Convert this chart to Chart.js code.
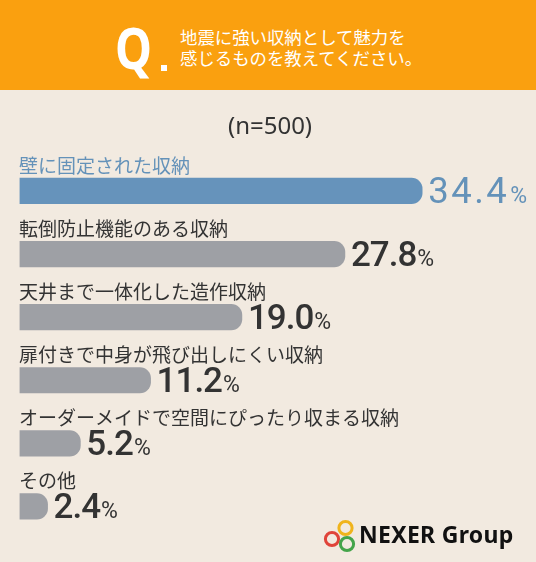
<!DOCTYPE html>
<html lang="ja">
<head>
<meta charset="utf-8">
<script src="https://cdn.jsdelivr.net/npm/chart.js@4.4.1/dist/chart.umd.min.js"></script>
<style>
  html, body { margin: 0; padding: 0; }
  body { width: 536px; height: 562px; background: #f2eae0; position: relative; overflow: hidden; }
  .header { position: absolute; left: 0; top: 0; width: 536px; height: 90px; background: #faa00f; }
  .q { position: absolute; left: 115px; top: 9px; font-family: "Noto Sans", sans-serif; font-weight: 700;
       font-size: 57px; color: #fff; transform: scaleX(0.82); transform-origin: left top; line-height: 76px; }
  .qdot { position: absolute; left: 161px; top: 65px; width: 6px; height: 6px; background: #fff; }
  .qtext { position: absolute; left: 180px; top: 26px; font-family: "Noto Sans CJK JP", sans-serif;
           font-size: 17.4px; line-height: 21px; color: #fff; }
  .wrap { position: absolute; left: 0; top: 0; width: 536px; height: 562px; }
  .logo { position: absolute; left: 322px; top: 516px; }
  .logotext { position: absolute; left: 359px; top: 519px; font-family: "Noto Sans", sans-serif; font-weight: 700;
              font-size: 23px; line-height: 30px; color: #111; letter-spacing: 0.3px; }
</style>
</head>
<body>
<div class="wrap"><canvas id="chart"></canvas></div>
<div class="header">
  <div class="q">Q</div>
  <div class="qdot"></div>
  <div class="qtext">地震に強い収納として魅力を<br>感じるものを教えてください。</div>
</div>
<svg class="logo" width="40" height="40" viewBox="0 0 40 40">
  <circle cx="23.5" cy="12" r="6.6" fill="none" stroke="#f0b41c" stroke-width="3"/>
  <circle cx="10" cy="23" r="6.6" fill="none" stroke="#e0443a" stroke-width="3"/>
  <circle cx="25" cy="28" r="6.6" fill="none" stroke="#44a44a" stroke-width="3"/>
</svg>
<div class="logotext">NEXER Group</div>
<script>
const categories = [
  '壁に固定された収納',
  '転倒防止機能のある収納',
  '天井まで一体化した造作収納',
  '扉付きで中身が飛び出しにくい収納',
  'オーダーメイドで空間にぴったり収まる収納',
  'その他'
];
const values = [34.4, 27.8, 19.0, 11.2, 5.2, 2.4];
const barColors = ['#6693bb', '#9ea0a5', '#9ea0a5', '#9ea0a5', '#9ea0a5', '#9ea0a5'];
const textColors = ['#6492b9', '#333333', '#333333', '#333333', '#333333', '#333333'];

const labelPlugin = {
  id: 'barLabels',
  afterDatasetsDraw(chart) {
    const ctx = chart.ctx;
    const meta = chart.getDatasetMeta(0);
    const left = chart.chartArea.left;
    meta.data.forEach((bar, i) => {
      const top = bar.y - bar.height / 2;
      const bottom = bar.y + bar.height / 2;
      ctx.save();
      // category label above the bar
      ctx.fillStyle = textColors[i];
      ctx.font = '19px "Noto Sans CJK JP", sans-serif';
      ctx.textBaseline = 'middle';
      ctx.textAlign = 'left';
      ctx.fillText(categories[i], left - 0.5, top - 12.5);
      // value + %
      const first = i == 0;
      ctx.font = (first ? '400 36.5' : '500 35') + 'px Roboto, sans-serif';
      ctx.letterSpacing = first ? '2.5px' : '-1px';
      ctx.textBaseline = 'alphabetic';
      const num = values[i].toFixed(1);
      const x = bar.x + 6;
      const y = bottom - 1;
      ctx.fillText(num, x, y);
      const w = ctx.measureText(num).width;
      ctx.letterSpacing = '0px';
      ctx.font = '400 23px Roboto, sans-serif';
      ctx.fillText('%', x + w + 1, y);
      ctx.restore();
    });
  }
};

new Chart(document.getElementById('chart'), {
  type: 'bar',
  data: {
    labels: categories,
    datasets: [{
      data: values,
      backgroundColor: barColors,
      borderWidth: 0,
      borderRadius: 11,
      borderSkipped: 'start',
      barThickness: 25.5
    }]
  },
  options: {
    indexAxis: 'y',
    responsive: true,
    maintainAspectRatio: false,
    animation: false,
    layout: { padding: { top: 90, left: 19.5, right: 15.5, bottom: 24 } },
    plugins: {
      legend: { display: false },
      tooltip: { enabled: false },
      title: {
        display: true,
        text: '(n=500)',
        color: '#333333',
        font: { family: '"Noto Sans", sans-serif', size: 24, weight: 400, lineHeight: 1.2 },
        padding: { top: 22.6, bottom: 18 }
      }
    },
    scales: {
      x: { display: false, min: 0, max: 42.8, grid: { display: false } },
      y: { display: false, grid: { display: false } }
    }
  },
  plugins: [labelPlugin]
});
</script>
</body>
</html>
